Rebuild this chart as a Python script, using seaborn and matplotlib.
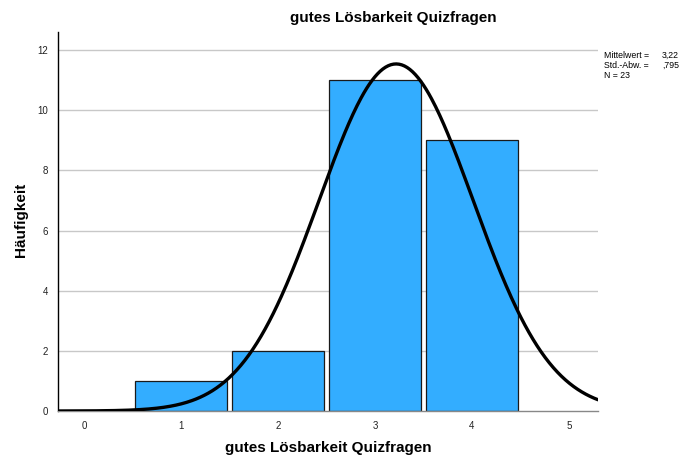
import numpy as np
import pandas as pd
import matplotlib
matplotlib.use("Agg")
import matplotlib.pyplot as plt
import seaborn as sns

# Frequency table of the rating
scores = [1, 2, 3, 4]
counts = [1, 2, 11, 9]
x_ticks = [0, 1, 2, 3, 4, 5]
y_ticks = [0, 2, 4, 6, 8, 10, 12]
title = "gutes Lösbarkeit Quizfragen"
y_label = "Häufigkeit"

sns.set_theme(style="white")
plt.rcParams["font.family"] = ["Liberation Sans", "DejaVu Sans"]
plt.rcParams["text.color"] = "black"

df = pd.DataFrame({"score": scores, "count": counts})
n = int(np.sum(counts))
mean = np.sum(df.score * df["count"]) / n
sd = np.sqrt(np.sum(df["count"] * (df.score - mean) ** 2) / (n - 1))

fig = plt.figure(figsize=(6.84, 4.62), dpi=100)
ax = fig.add_axes([58 / 684, 1 - 411 / 462, 540 / 684, 379 / 462])

for yv in y_ticks[1:]:
    ax.axhline(yv, color="#c8c8c8", lw=1.0, zorder=0)

sns.histplot(data=df, x="score", weights="count", discrete=True, shrink=0.95,
             color="#33adff", alpha=1.0, edgecolor="#1a1a1a", linewidth=0.9,
             ax=ax, zorder=2)

# Fitted normal curve scaled to counts (bin width 1)
xs = np.linspace(-0.27, 5.3, 400)
pdf = n * np.exp(-0.5 * ((xs - mean) / sd) ** 2) / (sd * np.sqrt(2 * np.pi))
sns.lineplot(x=xs, y=pdf, color="black", lw=2.4, ax=ax, zorder=3)

ax.set_xlim(-0.27, 5.3)
ax.set_ylim(0, 12.6)
ax.set_xticks(x_ticks)
ax.set_yticks(y_ticks)
ax.tick_params(axis="both", labelsize=7, length=0, pad=7, colors="#222222")
for s in ["top", "right"]:
    ax.spines[s].set_visible(False)
ax.spines["left"].set_color("black")
ax.spines["left"].set_linewidth(1.0)
ax.spines["bottom"].set_color("#888888")
ax.spines["bottom"].set_linewidth(1.0)
ax.set_xlabel("")
ax.set_ylabel("")

fig.text(328 / 684, 1 - 448 / 462, title, ha="center", va="center",
         fontsize=11, fontweight="bold")
fig.text(21 / 684, 1 - 220 / 462, y_label, ha="center", va="center",
         fontsize=11, fontweight="bold", rotation=90)
fig.text(393 / 684, 1 - 18 / 462, title, ha="center", va="center",
         fontsize=11, fontweight="bold")

stats_lines = [("Mittelwert =", "3,22"), ("Std.-Abw. =", ",795"), ("N = 23", "")]
for i, (lab, val) in enumerate(stats_lines):
    yy = 1 - (55 + i * 10) / 462
    fig.text(604 / 684, yy, lab, ha="left", va="center", fontsize=6.3)
    if val:
        fig.text(679 / 684, yy, val, ha="right", va="center", fontsize=6.3)

fig.savefig("out.png", dpi=100)
